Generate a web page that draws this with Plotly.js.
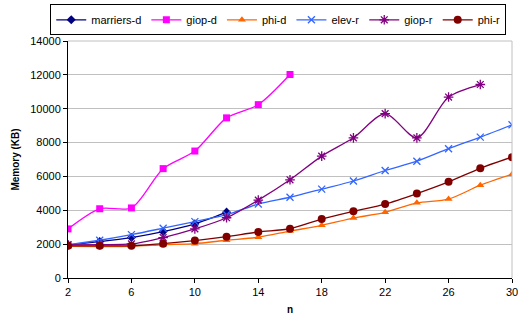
<!DOCTYPE html>
<html>
<head>
<meta charset="utf-8">
<script src="https://cdn.plot.ly/plotly-3.0.1.min.js"></script>
<style>html,body{margin:0;padding:0;background:#fff}#chart{width:518px;height:320px}</style>
</head>
<body>
<div id="chart"></div>
<script>
const n = [2, 4, 6, 8, 10, 12, 14, 16, 18, 20, 22, 24, 26, 28, 30];
const xTicks = [2, 6, 10, 14, 18, 22, 26, 30];
const yTicks = [0, 2000, 4000, 6000, 8000, 10000, 12000, 14000];
const marriersD = [1960, 2150, 2390, 2740, 3200, 3890];
const giopD = [2900, 4090, 4140, 6460, 7500, 9460, 10240, 12020];
const phiD = [1870, 1860, 1870, 1960, 2030, 2230, 2410, 2770, 3110, 3540, 3880, 4440, 4660, 5480, 6130];
const elevR = [1960, 2230, 2560, 2940, 3330, 3740, 4370, 4770, 5250, 5730, 6350, 6900, 7640, 8320, 9050];
const giopR = [1960, 1970, 2010, 2390, 2900, 3560, 4600, 5800, 7200, 8280, 9710, 8280, 10690, 11430];
const phiR = [1900, 1900, 1900, 2030, 2210, 2440, 2720, 2910, 3480, 3940, 4370, 4990, 5680, 6480, 7140];

const seriesNames = ["marriers-d", "giop-d", "phi-d", "elev-r", "giop-r", "phi-r"];
const seriesData = [marriersD, giopD, phiD, elevR, giopR, phiR];
const colors = ["#000080", "#FF00FF", "#FF6600", "#3366FF", "#800080", "#800000"];
const symbols = ["diamond", "square", "triangle-up", "x-thin-open", "asterisk-open", "circle"];
const sizes = [7, 7, 7, 7, 8, 8];

const traces = seriesNames.map((name, i) => ({
  x: n.slice(0, seriesData[i].length),
  y: seriesData[i],
  name: name,
  type: "scatter",
  mode: "lines+markers",
  line: {color: colors[i], width: 1.3, shape: "spline", smoothing: 0.8},
  marker: {symbol: symbols[i], size: sizes[i], color: colors[i], line: {color: colors[i], width: (i === 3 || i === 4) ? 1.3 : 0}}
}));

const layout = {
  width: 518, height: 320,
  margin: {l: 68, r: 6, t: 40, b: 42},
  paper_bgcolor: "#fff", plot_bgcolor: "#fff",
  font: {family: "Liberation Sans, Arial, sans-serif", size: 11, color: "#000"},
  showlegend: true,
  legend: {
    orientation: "h", x: -0.04, xanchor: "left", y: 1.15, yanchor: "top",
    bordercolor: "#000", borderwidth: 1, bgcolor: "#fff",
    font: {size: 11}, itemwidth: 30, tracegroupgap: 0
  },
  xaxis: {
    range: [2, 30], tickmode: "array", tickvals: xTicks, ticktext: xTicks.map(String),
    ticklabeloverflow: "allow",
    showgrid: false, zeroline: false,
    showline: true, linecolor: "#000", linewidth: 1,
    ticks: "outside", ticklen: 4, tickcolor: "#000",
    title: {text: "n", font: {size: 10, weight: "bold"}, standoff: 8}
  },
  yaxis: {
    range: [0, 14000], tickmode: "array", tickvals: yTicks, ticktext: yTicks.map(String),
    ticklabeloverflow: "allow",
    showgrid: true, gridcolor: "#C0C0C0", gridwidth: 1, zeroline: false,
    showline: true, linecolor: "#000", linewidth: 1,
    ticks: "outside", ticklen: 4, tickcolor: "#000",
    title: {text: "Memory (KB)", font: {size: 10, weight: "bold"}, standoff: 8}
  },
  shapes: [
    {type: "line", xref: "paper", yref: "paper", x0: 1, x1: 1, y0: 0, y1: 1, line: {color: "#C0C0C0", width: 1}},
    {type: "line", xref: "paper", yref: "paper", x0: 0, x1: 1, y0: 1, y1: 1, line: {color: "#C0C0C0", width: 1}}
  ]
};

Plotly.newPlot("chart", traces, layout, {displayModeBar: false, staticPlot: true});
</script>
</body>
</html>
